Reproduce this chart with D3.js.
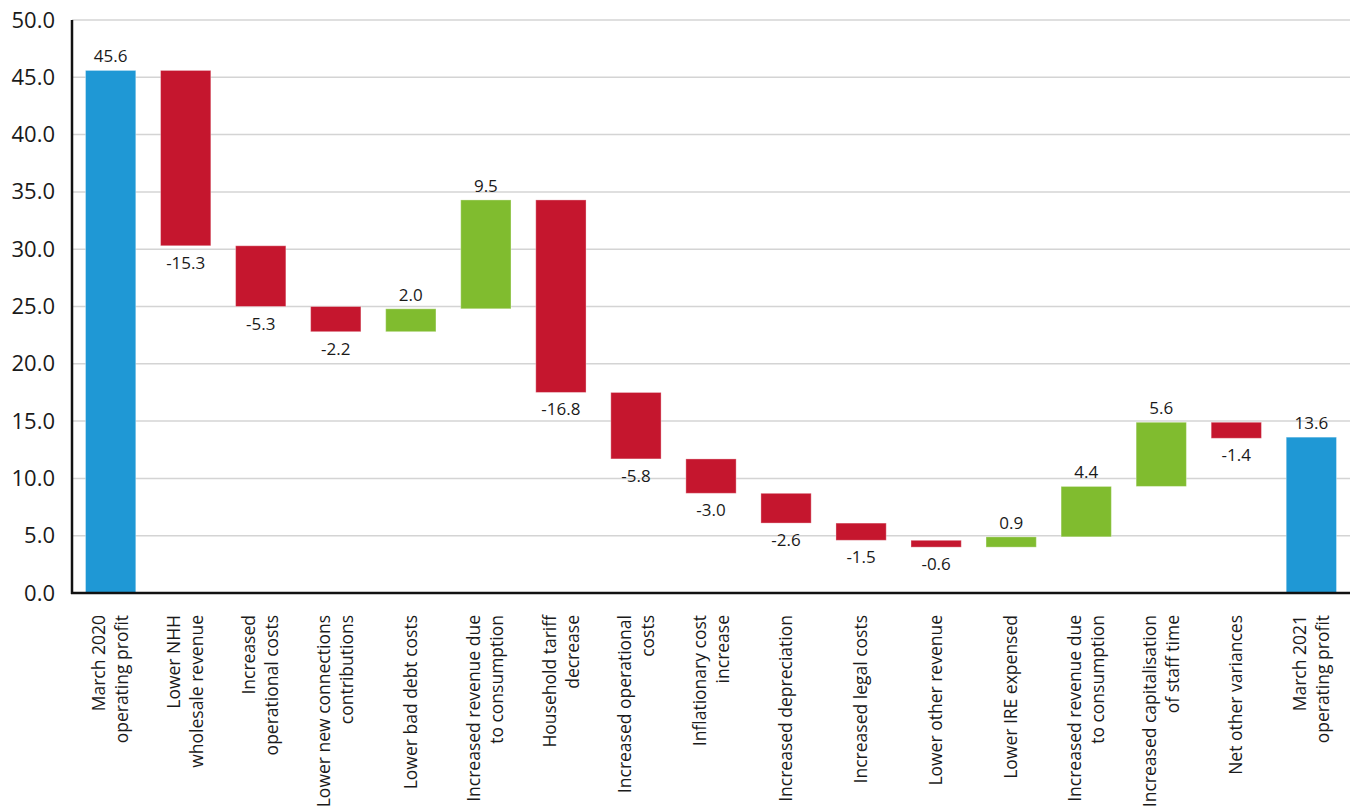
<!DOCTYPE html>
<html>
<head>
<meta charset="utf-8">
<script src="https://cdn.jsdelivr.net/npm/d3@7"></script>
<style>
  body { margin: 0; background: #fff; }
  text { font-family: "Open Sans", "Noto Sans", sans-serif; fill: #1a1a1a; }
</style>
</head>
<body>
<div id="chart"></div>
<script>
// Category labels, split into the two lines used in the picture
var categories = [
    ["March 2020", "operating profit"],
    ["Lower NHH", "wholesale revenue"],
    ["Increased", "operational costs"],
    ["Lower new connections", "contributions"],
    ["Lower bad debt costs"],
    ["Increased revenue due", "to consumption"],
    ["Household tariff", "decrease"],
    ["Increased operational", "costs"],
    ["Inflationary cost", "increase"],
    ["Increased depreciation"],
    ["Increased legal costs"],
    ["Lower other revenue"],
    ["Lower IRE expensed"],
    ["Increased revenue due", "to consumption"],
    ["Increased capitalisation", "of staff time"],
    ["Net other variances"],
    ["March 2021", "operating profit"]
];

// Values (totals for first and last, changes in between)
var values = [45.6, -15.3, -5.3, -2.2, 2.0, 9.5, -16.8, -5.8, -3.0, -2.6, -1.5, -0.6, 0.9, 4.4, 5.6, -1.4, 13.6];
var isTotal = [true, false, false, false, false, false, false, false, false, false, false, false, false, false, false, false, true];

var yTicks = [0, 5, 10, 15, 20, 25, 30, 35, 40, 45, 50];

var colors = { total: "#1f98d5", down: "#c5162e", up: "#80bc2f" };

var margin = { top: 20, right: 4, bottom: 216, left: 72 };
var width = 1354 - margin.left - margin.right;
var height = 809 - margin.top - margin.bottom;

// one decimal, plain hyphen for negatives
function fmt(v) {
    return v.toFixed(1);
}

var svg = d3.select("#chart").append("svg")
    .attr("width", 1354)
    .attr("height", 809);

var g = svg.append("g")
    .attr("transform", "translate(" + margin.left + "," + margin.top + ")");

// Build the waterfall start/end values
var rows = [];
var running = 0;
for (var i = 0; i < values.length; i++) {
    var start, end, kind;
    if (isTotal[i]) {
        start = 0;
        end = values[i];
        running = values[i];
        kind = "total";
    } else {
        start = running;
        end = running + values[i];
        running = end;
        kind = values[i] < 0 ? "down" : "up";
    }
    rows.push({ i: i, label: categories[i], value: values[i], start: start, end: end, kind: kind });
}

// Scales
var x = d3.scaleBand()
    .domain(d3.range(values.length))
    .range([0, width])
    .paddingInner(0.33)
    .paddingOuter(0.18);

var y = d3.scaleLinear()
    .domain([0, 50])
    .range([height, 0]);

// Grid lines
g.append("g")
    .attr("class", "grid")
    .selectAll("line")
    .data(yTicks.filter(function (d) { return d > 0; }))
    .enter().append("line")
    .attr("x1", 0)
    .attr("x2", width)
    .attr("y1", function (d) { return y(d); })
    .attr("y2", function (d) { return y(d); })
    .style("stroke", "#d4d4d4")
    .style("stroke-width", 1.5);

// Y axis
var yAxis = d3.axisLeft(y)
    .tickValues(yTicks)
    .tickSize(0)
    .tickPadding(17)
    .tickFormat(fmt);

g.append("g")
    .attr("class", "y_axis")
    .call(yAxis)
    .call(function (sel) {
        sel.select(".domain").remove();
        sel.selectAll("text")
            .style("font-size", "22px")
            .style("fill", "#1a1a1a");
    });

// Bars
g.selectAll(".bar")
    .data(rows)
    .enter().append("rect")
    .attr("class", "bar")
    .attr("x", function (d) { return x(d.i); })
    .attr("width", x.bandwidth())
    .attr("y", function (d) { return y(Math.max(d.start, d.end)); })
    .attr("height", function (d) { return Math.abs(y(d.start) - y(d.end)); })
    .style("fill", function (d) { return colors[d.kind]; })
    .style("stroke", "#fff")
    .style("stroke-opacity", 0.35)
    .style("stroke-width", 1);

// Value labels
g.selectAll(".value_label")
    .data(rows)
    .enter().append("text")
    .attr("class", "value_label")
    .attr("x", function (d) { return x(d.i) + x.bandwidth() / 2; })
    .attr("y", function (d) {
        if (d.value < 0) {
            return y(Math.min(d.start, d.end)) + 23;
        }
        return y(Math.max(d.start, d.end)) - 8;
    })
    .attr("text-anchor", "middle")
    .style("font-size", "17px")
    .text(function (d) { return fmt(d.value); });

// Axis lines
g.append("line")
    .attr("x1", 0).attr("x2", 0)
    .attr("y1", 0).attr("y2", height + 1)
    .style("stroke", "#111")
    .style("stroke-width", 2.5);

g.append("line")
    .attr("x1", -1).attr("x2", width)
    .attr("y1", height).attr("y2", height)
    .style("stroke", "#111")
    .style("stroke-width", 2.5);

// Category labels, rotated
var catG = g.selectAll(".cat_label")
    .data(rows)
    .enter().append("g")
    .attr("class", "cat_label")
    .attr("transform", function (d) {
        return "translate(" + (x(d.i) + x.bandwidth() / 2) + "," + (height + 22) + ") rotate(-90)";
    });

catG.each(function (d) {
    var lines = d.label;
    var n = lines.length;
    var sel = d3.select(this);
    for (var k = 0; k < n; k++) {
        sel.append("text")
            .attr("x", 0)
            .attr("y", (k - (n - 1) / 2) * 23)
            .attr("dy", "0.35em")
            .attr("text-anchor", "end")
            .style("font-size", "17.5px")
            .text(lines[k]);
    }
});
</script>
</body>
</html>
